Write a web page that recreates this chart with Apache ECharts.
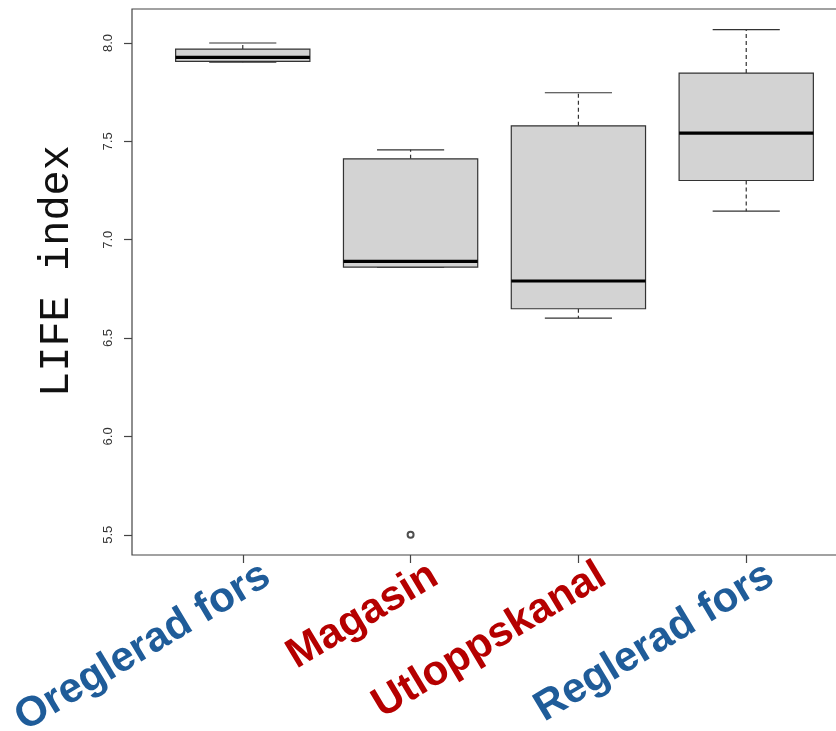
<!DOCTYPE html>
<html>
<head>
<meta charset="utf-8">
<script src="https://cdn.jsdelivr.net/npm/echarts@6/dist/echarts.min.js"></script>
<style>
html,body{margin:0;padding:0;background:#fff;}
#chart{width:836px;height:731px;}
</style>
</head>
<body>
<div id="chart"></div>
<script>
// ---- data ----
var categories = ['Oreglerad fors', 'Magasin', 'Utloppskanal', 'Reglerad fors'];
var labelColors = ['#1F5C99', '#B50000', '#B50000', '#1F5C99'];
var whiskerLow  = [7.902, 6.861, 6.601, 7.145];
var q1          = [7.907, 6.861, 6.649, 7.301];
var median      = [7.927, 6.890, 6.790, 7.542];
var q3          = [7.969, 7.411, 7.579, 7.847];
var whiskerHigh = [8.000, 7.457, 7.747, 8.068];
var outlierGroup = [2];
var outlierValue = [5.50];
var yTicks = [5.5, 6.0, 6.5, 7.0, 7.5, 8.0];
var xTicks = [1, 2, 3, 4];

var boxData = categories.map(function (c, i) {
  return [i + 1, whiskerLow[i], q1[i], median[i], q3[i], whiskerHigh[i]];
});
var outlierData = outlierGroup.map(function (g, i) { return [g, outlierValue[i]]; });

var chart = echarts.init(document.getElementById('chart'), null, {renderer: 'canvas'});

function renderBox(params, api) {
  var x = api.value(0);
  var lo = api.value(1), a = api.value(2), m = api.value(3), b = api.value(4), hi = api.value(5);
  var halfW = api.size([0.8, 0])[0] / 2;
  var capW = halfW / 2;
  var pLo = api.coord([x, lo]), pA = api.coord([x, a]), pM = api.coord([x, m]),
      pB = api.coord([x, b]), pHi = api.coord([x, hi]);
  var cx = pM[0];
  var stroke = '#333';
  var dashStyle = {stroke: stroke, lineWidth: 1.2, lineDash: [4, 3], fill: null};
  var solid = {stroke: stroke, lineWidth: 1.2, fill: null};
  return {
    type: 'group',
    children: [
      {type: 'line', shape: {x1: cx, y1: pB[1], x2: cx, y2: pHi[1]}, style: dashStyle},
      {type: 'line', shape: {x1: cx, y1: pA[1], x2: cx, y2: pLo[1]}, style: dashStyle},
      {type: 'line', shape: {x1: cx - capW, y1: pHi[1], x2: cx + capW, y2: pHi[1]}, style: solid},
      {type: 'line', shape: {x1: cx - capW, y1: pLo[1], x2: cx + capW, y2: pLo[1]}, style: solid},
      {type: 'rect', shape: {x: cx - halfW, y: pB[1], width: 2 * halfW, height: pA[1] - pB[1]},
        style: {fill: '#D3D3D3', stroke: stroke, lineWidth: 1.2}},
      {type: 'line', shape: {x1: cx - halfW, y1: pM[1], x2: cx + halfW, y2: pM[1]},
        style: {stroke: '#000', lineWidth: 3.2}}
    ]
  };
}

var option = {
  animation: false,
  backgroundColor: '#fff',
  grid: {
    left: 132, top: 9, width: 725, height: 546,
    containLabel: false,
    outerBoundsMode: 'none',
    show: true, borderColor: '#444', borderWidth: 1.2, backgroundColor: 'transparent'
  },
  xAxis: {
    type: 'value', min: 0.34, max: 4.66,
    splitLine: {show: false},
    axisLine: {show: false},
    axisTick: {show: true, length: 8, lineStyle: {color: '#444', width: 1.2}, customValues: xTicks},
    axisLabel: {
      customValues: xTicks,
      rotate: 31,
      margin: -3,
      verticalAlign: 'top',
      lineHeight: 60,
      hideOverlap: false,
      showMinLabel: true,
      showMaxLabel: true,
      fontFamily: 'Liberation Sans',
      fontWeight: 'bold',
      fontSize: 42,
      formatter: function (v) { return '{t|' + categories[Math.round(v) - 1] + '}'; },
      color: function (v) { return labelColors[Math.round(Number(v)) - 1]; },
      rich: {
        t: {
          fontFamily: 'Liberation Sans',
          fontWeight: 'bold',
          fontSize: 42,
          lineHeight: 60,
          padding: [0, -10, 0, 0]
        }
      }
    }
  },
  yAxis: {
    type: 'value', min: 5.3972, max: 8.1728,
    name: 'LIFE index',
    nameLocation: 'middle',
    nameGap: 54,
    nameTextStyle: {fontFamily: 'Liberation Mono', fontSize: 42, color: '#111', padding: [0, 0, 0, 22]},
    splitLine: {show: false},
    axisLine: {show: false},
    axisTick: {show: true, length: 8, lineStyle: {color: '#444', width: 1.2}, customValues: yTicks},
    axisLabel: {
      customValues: yTicks,
      rotate: 90,
      margin: 17,
      showMinLabel: true,
      showMaxLabel: true,
      fontFamily: 'Liberation Sans',
      fontSize: 13,
      color: '#333',
      formatter: function (v) { return Number(v).toFixed(1); }
    }
  },
  series: [
    {
      type: 'custom',
      renderItem: renderBox,
      data: boxData,
      encode: {x: 0, y: [1, 2, 3, 4, 5]},
      clip: false
    },
    {
      type: 'scatter',
      data: outlierData,
      symbol: 'emptyCircle',
      symbolSize: 6,
      itemStyle: {color: '#222', borderWidth: 0.9},
      silent: true
    }
  ]
};
chart.setOption(option);
</script>
</body>
</html>
